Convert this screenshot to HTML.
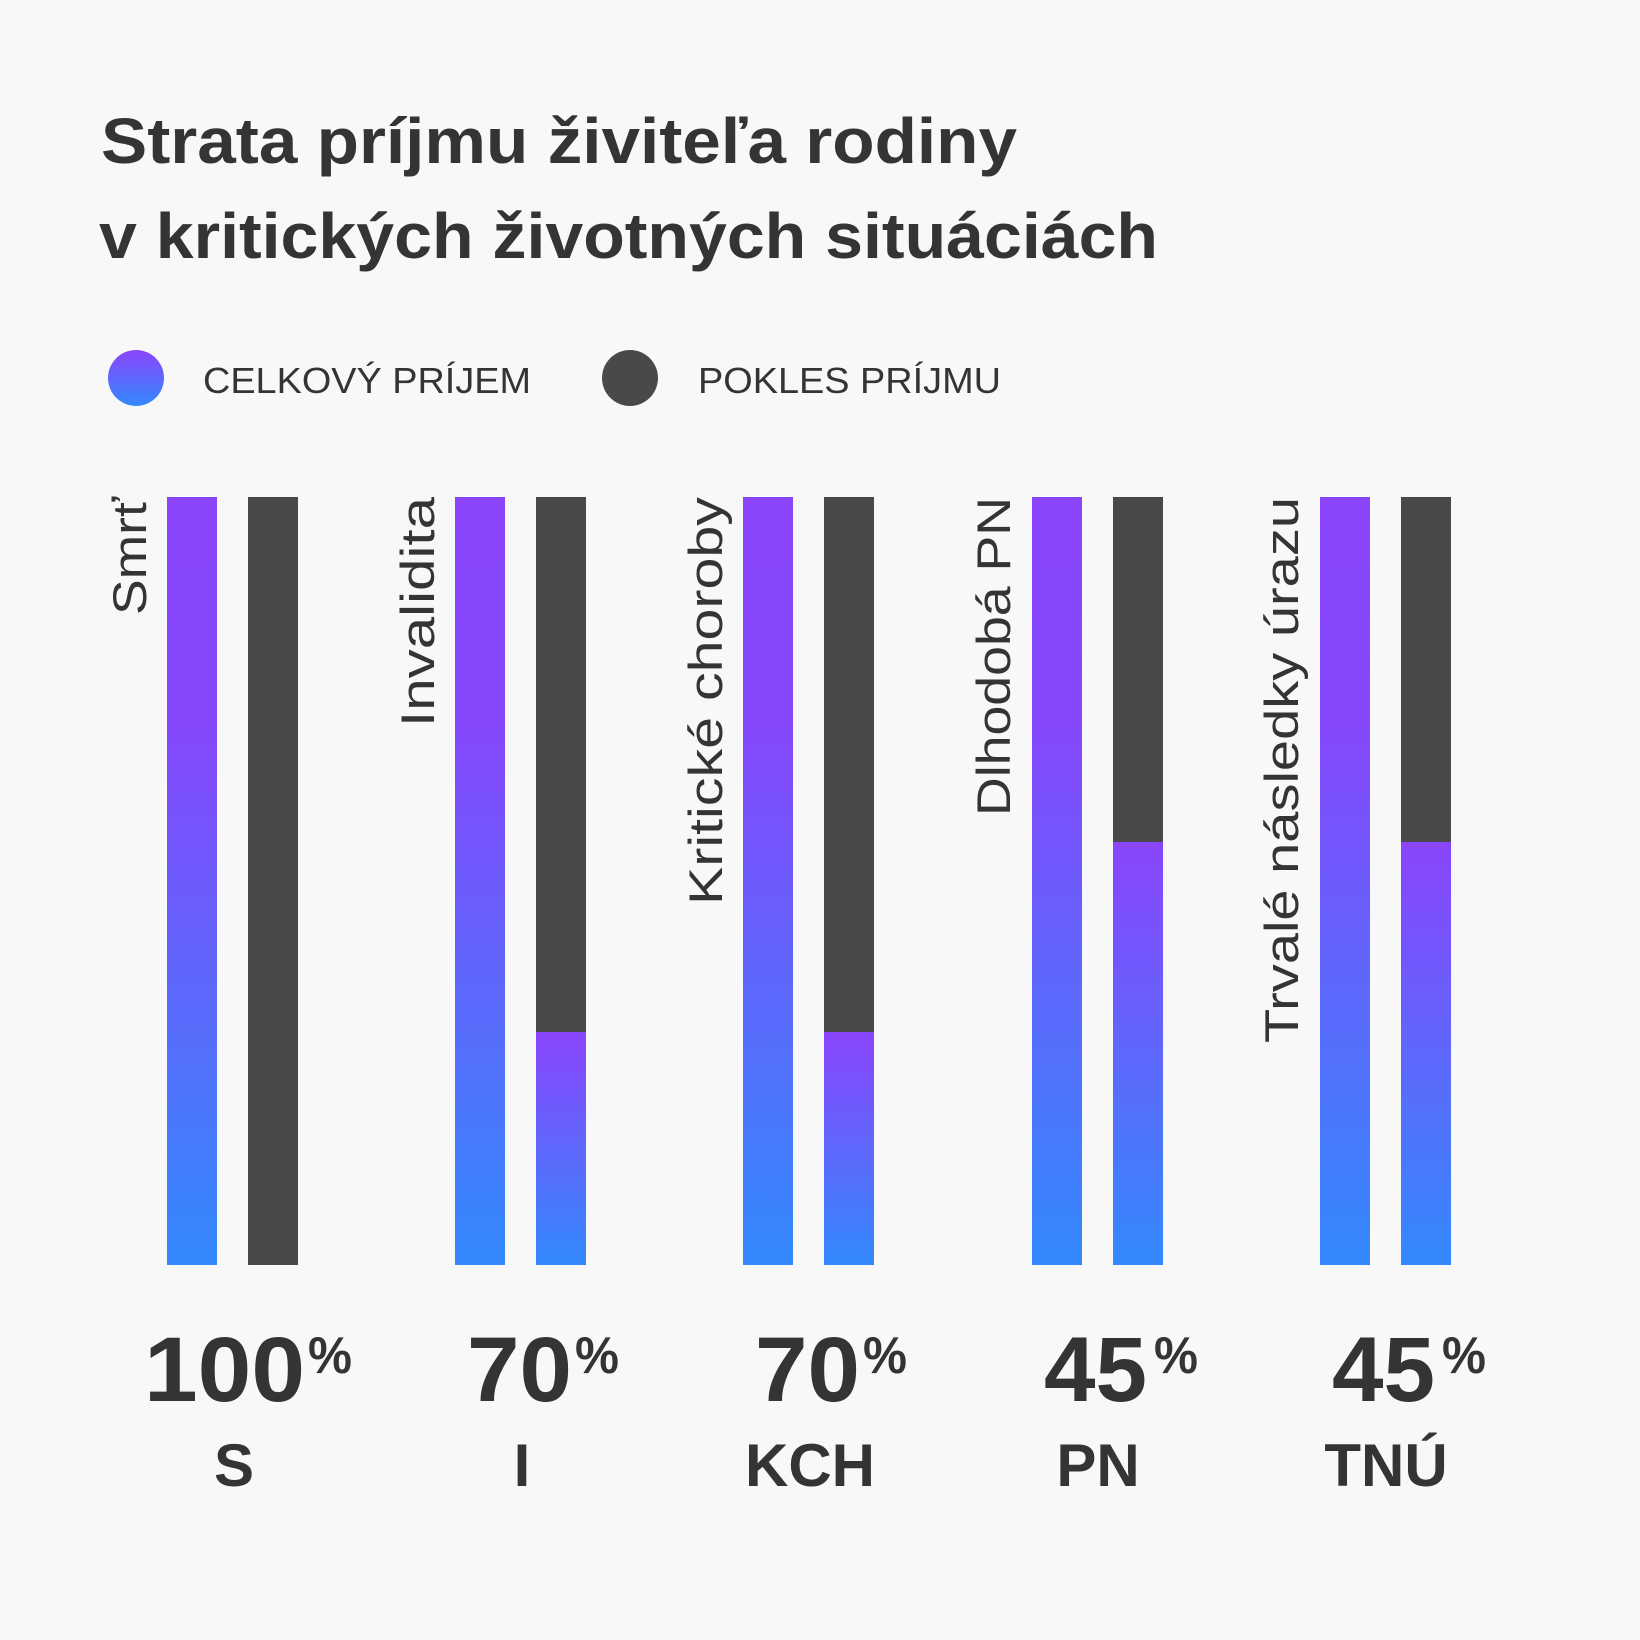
<!DOCTYPE html>
<html><head><meta charset="utf-8"><style>html,body{margin:0;padding:0;background:#f8f8f8}svg{display:block}</style></head>
<body>
<svg width="1640" height="1640" viewBox="0 0 1640 1640" xmlns="http://www.w3.org/2000/svg" font-family="Liberation Sans, DejaVu Sans, sans-serif" fill="#353434">
<defs>
<linearGradient id="g" x1="0" y1="0" x2="0" y2="1"><stop offset="0" stop-color="#8a45fb"/><stop offset="0.3" stop-color="#8548fb"/><stop offset="1" stop-color="#3389fd"/></linearGradient>
<linearGradient id="g2" x1="0" y1="0" x2="0" y2="1"><stop offset="0" stop-color="#8a45fb"/><stop offset="1" stop-color="#3389fd"/></linearGradient>
</defs>
<rect width="1640" height="1640" fill="#f8f8f8"/>
<text x="101" y="163" font-size="64" font-weight="bold" textLength="916" lengthAdjust="spacingAndGlyphs">Strata príjmu živiteľa rodiny</text>
<text x="99" y="258" font-size="64" font-weight="bold" textLength="1059" lengthAdjust="spacingAndGlyphs">v kritických životných situáciách</text>
<circle cx="136" cy="378" r="28" fill="url(#g2)"/>
<text x="203" y="393" font-size="36" textLength="328" lengthAdjust="spacingAndGlyphs">CELKOVÝ PRÍJEM</text>
<circle cx="630" cy="378" r="28" fill="#4a4849"/>
<text x="698" y="393" font-size="36" textLength="303" lengthAdjust="spacingAndGlyphs">POKLES PRÍJMU</text>
<g>
<rect x="167" y="497" width="50" height="768" fill="url(#g)"/>
<rect x="248" y="497" width="50" height="768" fill="#4a4849"/>
<rect x="455" y="497" width="50" height="768" fill="url(#g)"/>
<rect x="536" y="497" width="50" height="536" fill="#4a4849"/>
<rect x="536" y="1032" width="50" height="233" fill="url(#g2)"/>
<rect x="743" y="497" width="50" height="768" fill="url(#g)"/>
<rect x="824" y="497" width="50" height="536" fill="#4a4849"/>
<rect x="824" y="1032" width="50" height="233" fill="url(#g2)"/>
<rect x="1032" y="497" width="50" height="768" fill="url(#g)"/>
<rect x="1113" y="497" width="50" height="345" fill="#4a4849"/>
<rect x="1113" y="842" width="50" height="423" fill="url(#g2)"/>
<rect x="1320" y="497" width="50" height="768" fill="url(#g)"/>
<rect x="1401" y="497" width="50" height="345" fill="#4a4849"/>
<rect x="1401" y="842" width="50" height="423" fill="url(#g2)"/>
</g>
<g font-size="47" text-anchor="end">
<text transform="translate(146,497) rotate(-90)" textLength="118" lengthAdjust="spacingAndGlyphs">Smrť</text>
<text transform="translate(434,497) rotate(-90)" textLength="230" lengthAdjust="spacingAndGlyphs">Invalidita</text>
<text transform="translate(722,497) rotate(-90)" textLength="408" lengthAdjust="spacingAndGlyphs">Kritické choroby</text>
<text transform="translate(1010,497) rotate(-90)" textLength="319" lengthAdjust="spacingAndGlyphs">Dlhodobá PN</text>
<text transform="translate(1298,497) rotate(-90)" textLength="546" lengthAdjust="spacingAndGlyphs">Trvalé následky úrazu</text>
</g>
<g font-weight="bold">
<text x="144" y="1401" font-size="92" textLength="161" lengthAdjust="spacingAndGlyphs">100</text>
<text x="308" y="1373" font-size="52" textLength="44" lengthAdjust="spacingAndGlyphs">%</text>
<text x="467" y="1401" font-size="92" textLength="105" lengthAdjust="spacingAndGlyphs">70</text>
<text x="575" y="1373" font-size="52" textLength="44" lengthAdjust="spacingAndGlyphs">%</text>
<text x="755" y="1401" font-size="92" textLength="105" lengthAdjust="spacingAndGlyphs">70</text>
<text x="863" y="1373" font-size="52" textLength="44" lengthAdjust="spacingAndGlyphs">%</text>
<text x="1044" y="1401" font-size="92" textLength="103" lengthAdjust="spacingAndGlyphs">45</text>
<text x="1154" y="1373" font-size="52" textLength="44" lengthAdjust="spacingAndGlyphs">%</text>
<text x="1332" y="1401" font-size="92" textLength="103" lengthAdjust="spacingAndGlyphs">45</text>
<text x="1442" y="1373" font-size="52" textLength="44" lengthAdjust="spacingAndGlyphs">%</text>
</g>
<g font-weight="bold" font-size="60" text-anchor="middle">
<text x="234" y="1486">S</text>
<text x="522" y="1486">I</text>
<text x="810" y="1486">KCH</text>
<text x="1098" y="1486">PN</text>
<text x="1386" y="1486">TNÚ</text>
</g>
</svg>
</body></html>
